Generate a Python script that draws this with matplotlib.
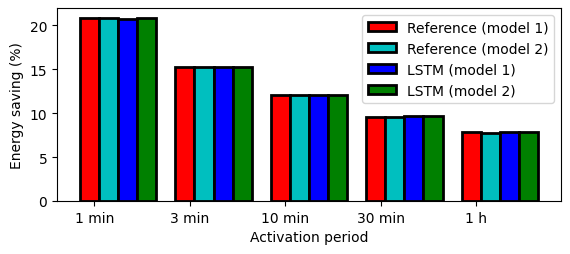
import numpy as np
import matplotlib.pyplot as plt

periods = ["1 min", "3 min", "10 min", "30 min", "1 h"]
ref_m1 = [20.8, 15.3, 12.05, 9.62, 7.83]
ref_m2 = [20.9, 15.3, 12.05, 9.60, 7.76]
lstm_m1 = [20.7, 15.3, 12.05, 9.73, 7.90]
lstm_m2 = [20.9, 15.3, 12.05, 9.73, 7.90]

labels = ["Reference (model 1)", "Reference (model 2)", "LSTM (model 1)", "LSTM (model 2)"]
colors = ["r", "c", "b", "g"]

x = np.arange(len(periods))
w = 0.2

fig, ax = plt.subplots(figsize=(5.7, 2.55), dpi=100)
for i, (vals, lab, col) in enumerate(zip([ref_m1, ref_m2, lstm_m1, lstm_m2], labels, colors)):
    ax.bar(x - 0.05 + i * w, vals, width=w, color=col, edgecolor="k", linewidth=2, label=lab)

ax.set_xticks(x)
ax.set_xticklabels(periods)
ax.set_xlabel("Activation period")
ax.set_ylabel("Energy saving (%)")
ax.set_ylim(0, 22)
ax.legend(loc="upper right")

plt.subplots_adjust(left=0.1, right=0.984, top=0.965, bottom=0.208)
plt.savefig("out.png")
plt.close()
